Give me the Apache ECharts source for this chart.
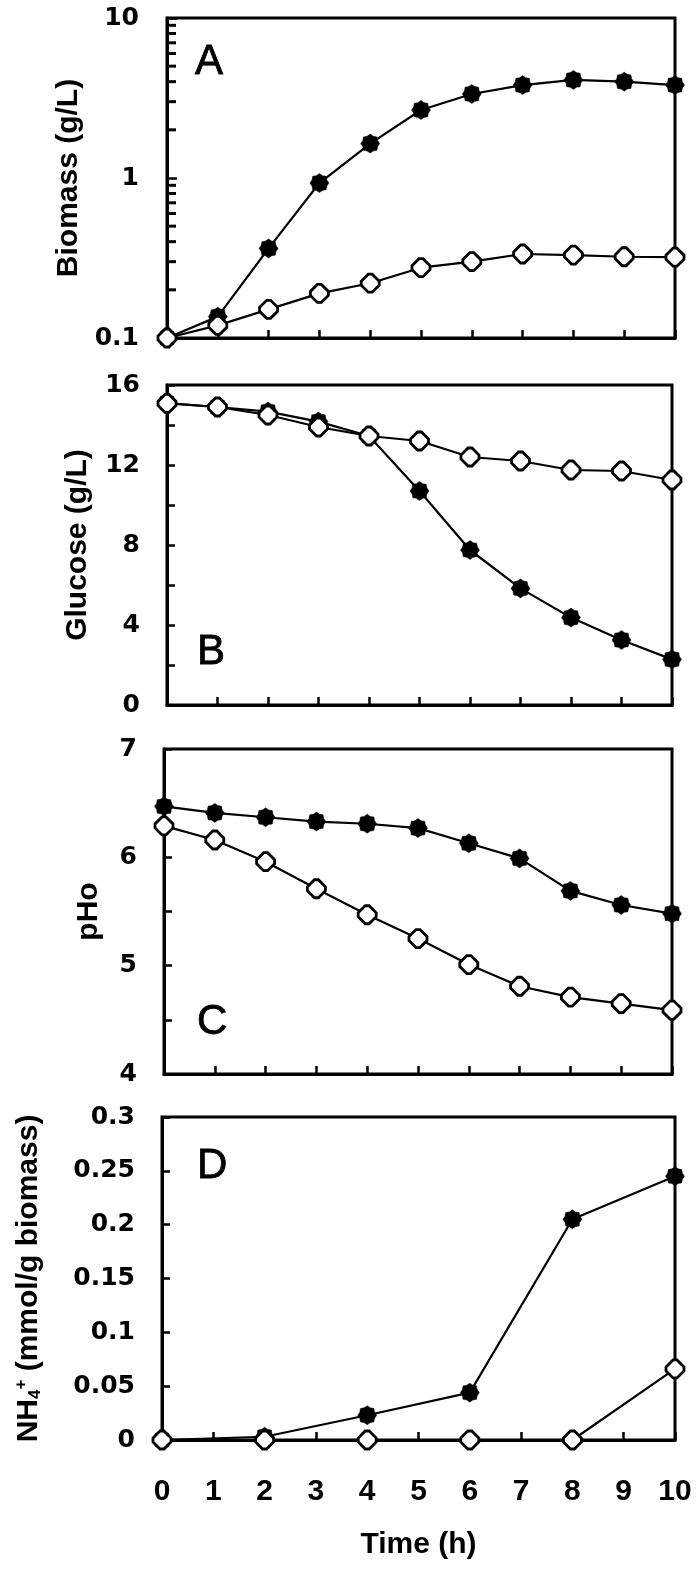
<!DOCTYPE html>
<html><head><meta charset="utf-8">
<script src="https://cdn.jsdelivr.net/npm/echarts@6/dist/echarts.min.js"></script>
<style>html,body{margin:0;padding:0;background:#fff}#c{width:700px;height:1576px}</style>
</head><body><div id="c"></div>
<script>
// ---------- data ----------
const time = [0, 1, 2, 3, 4, 5, 6, 7, 8, 9, 10];
const timeD = [0, 2, 4, 6, 8, 10];
const biomassFilled = [0.10, 0.136, 0.363, 0.93, 1.64, 2.66, 3.35, 3.81, 4.10, 4.00, 3.81];
const biomassOpen   = [0.10, 0.12, 0.151, 0.19, 0.22, 0.275, 0.30, 0.335, 0.33, 0.322, 0.32];
const glucoseFilled = [15.1, 14.9, 14.67, 14.17, 13.45, 10.7, 7.75, 5.83, 4.37, 3.25, 2.28];
const glucoseOpen   = [15.08, 14.9, 14.5, 13.9, 13.45, 13.2, 12.4, 12.2, 11.75, 11.7, 11.25];
const phFilled = [6.47, 6.41, 6.37, 6.33, 6.31, 6.27, 6.13, 5.99, 5.69, 5.56, 5.48];
const phOpen   = [6.29, 6.16, 5.96, 5.71, 5.47, 5.25, 5.01, 4.81, 4.71, 4.65, 4.59];
const nh4Filled = [0, 0.003, 0.023, 0.044, 0.205, 0.245];
const nh4Open   = [0, 0, 0, 0, 0, 0.066];
const biomassMinorTicks = [0.2, 0.3, 0.4, 0.5, 0.6, 0.7, 0.8, 0.9, 2, 3, 4, 5, 6, 7, 8, 9];
const panelLetters = ['A', 'B', 'C', 'D'];
const yNames = ['Biomass (g/L)', 'Glucose (g/L)', 'pHo', 'NH{sub|4}{sup|+} (mmol/g biomass)'];
const xName = 'Time (h)';

// ---------- styling ----------
function gearPath() {
  const n = 16, pts = [];
  for (let i = 0; i < n; i++) {
    const a = Math.PI * 2 * i / n - Math.PI / 2;
    const r = i % 2 === 0 ? 1 : 0.84;
    pts.push((r * Math.cos(a)).toFixed(3) + ',' + (r * Math.sin(a)).toFixed(3));
  }
  return 'path://M' + pts.join(' L') + ' Z';
}
const filledSymbol = gearPath();
const openSymbol = 'path://M-0.22,-1 L0.22,-1 L1,-0.22 L1,0.22 L0.22,1 L-0.22,1 L-1,0.22 L-1,-0.22 Z';

const grids = [
  { left: 167, top: 18, width: 508, height: 320 },
  { left: 167, top: 385, width: 505, height: 320 },
  { left: 164, top: 749, width: 508, height: 325 },
  { left: 162, top: 1117, width: 513, height: 323 }
].map(g => Object.assign({ show: true, borderColor: '#000', borderWidth: 3, backgroundColor: 'transparent' }, g));

const nameFont = { fontFamily: 'Liberation Sans', fontWeight: 'bold', fontSize: 30, color: '#000' };
const yLabelFont = { fontFamily: 'DejaVu Sans', fontWeight: 'bold', fontSize: 25, color: '#000' };

const xAxes = grids.map((g, i) => ({
  type: 'value', gridIndex: i, min: 0, max: 10, interval: 1,
  axisLine: { onZero: false, lineStyle: { color: '#000', width: 3 } },
  axisTick: { inside: true, length: 8, lineStyle: { color: '#000', width: 2.5 } },
  axisLabel: { show: i === 3, margin: 37, fontFamily: 'Liberation Sans', fontWeight: 'bold', fontSize: 30, color: '#000' },
  splitLine: { show: false },
  name: i === 3 ? xName : '', nameLocation: 'middle', nameGap: 90,
  nameTextStyle: nameFont
}));

const commonY = {
  axisLine: { show: true, onZero: false, lineStyle: { color: '#000', width: 3 } },
  axisTick: { show: true, inside: true, length: 8, lineStyle: { color: '#000', width: 2.5 } },
  splitLine: { show: false },
  nameLocation: 'middle', nameRotate: 90
};
const yAxes = [
  Object.assign({}, commonY, {
    type: 'log', logBase: 10, gridIndex: 0, min: 0.1, max: 10,
    axisTick: { show: true, inside: true, length: 10, lineStyle: { color: '#000', width: 2.5 } },
    axisLabel: Object.assign({ margin: 28, formatter: v => String(+(+v).toPrecision(2)) }, yLabelFont),
    name: yNames[0], nameGap: 76, nameTextStyle: nameFont
  }),
  Object.assign({}, commonY, {
    type: 'value', gridIndex: 1, min: 0, max: 16, interval: 2,
    axisLabel: Object.assign({ margin: 27, formatter: v => (v % 4 === 0 ? String(v) : '') }, yLabelFont),
    name: yNames[1], nameGap: 74, nameTextStyle: nameFont
  }),
  Object.assign({}, commonY, {
    type: 'value', gridIndex: 2, min: 4, max: 7, interval: 0.5,
    axisLabel: Object.assign({ margin: 27, formatter: v => (Number.isInteger(+v) ? String(v) : '') }, yLabelFont),
    name: yNames[2], nameGap: 60, nameTextStyle: nameFont
  }),
  Object.assign({}, commonY, {
    type: 'value', gridIndex: 3, min: 0, max: 0.3, interval: 0.05,
    axisLabel: Object.assign({ margin: 27, formatter: v => String(+(+v).toFixed(2)) }, yLabelFont),
    name: yNames[3], nameGap: 118,
    nameTextStyle: Object.assign({}, nameFont, {
      rich: {
        sub: { fontFamily: 'Liberation Sans', fontWeight: 'bold', fontSize: 17, color: '#000', verticalAlign: 'bottom', padding: [14, 0, 0, 0] },
        sup: { fontFamily: 'Liberation Sans', fontWeight: 'bold', fontSize: 17, color: '#000', verticalAlign: 'top', padding: [0, 0, 12, 0] }
      }
    })
  })
];

function mk(xs, ys) { return xs.map((t, i) => [t, ys[i]]); }
function lineSeries(idx, xs, ys, filled) {
  return {
    type: 'line', xAxisIndex: idx, yAxisIndex: idx, data: mk(xs, ys),
    symbol: filled ? filledSymbol : openSymbol, symbolSize: filled ? 19 : 18,
    showSymbol: true, clip: false, silent: true, z: filled ? 3 : 4,
    lineStyle: { color: '#000', width: 2.2 },
    itemStyle: filled ? { color: '#000', borderColor: '#000', borderWidth: 0.5 }
                      : { color: '#fff', borderColor: '#000', borderWidth: 2.8 },
    emphasis: { disabled: true }
  };
}

const series = [
  lineSeries(0, time, biomassFilled, true), lineSeries(0, time, biomassOpen, false),
  lineSeries(1, time, glucoseFilled, true), lineSeries(1, time, glucoseOpen, false),
  lineSeries(2, time, phFilled, true), lineSeries(2, time, phOpen, false),
  lineSeries(3, timeD, nh4Filled, true), lineSeries(3, timeD, nh4Open, false),
  {
    // minor log ticks on the Biomass axis (inside, from the axis line)
    type: 'custom', coordinateSystem: 'cartesian2d', clip: false, z: 10,
    data: biomassMinorTicks.map(v => [0, v]),
    renderItem: (params, api) => {
      const c = api.coord([api.value(0), api.value(1)]);
      return { type: 'line', shape: { x1: c[0], y1: c[1], x2: c[0] + 9, y2: c[1] }, style: { stroke: '#000', lineWidth: 3 } };
    }
  }
];

const letterPos = [[195, 62], [197, 652], [197, 1022], [197, 1166]];
const graphic = panelLetters.map((L, i) => ({
  type: 'text', x: letterPos[i][0], y: letterPos[i][1], silent: true,
  style: { text: L, fontFamily: 'Liberation Sans', fontSize: 42, fill: '#000', stroke: '#000', lineWidth: 0.8, verticalAlign: 'middle', align: 'left' }
}));

const chart = echarts.init(document.getElementById('c'), null, { renderer: 'canvas' });
chart.setOption({
  animation: false, backgroundColor: '#fff',
  grid: grids, xAxis: xAxes, yAxis: yAxes, series: series, graphic: graphic
});
</script></body></html>
